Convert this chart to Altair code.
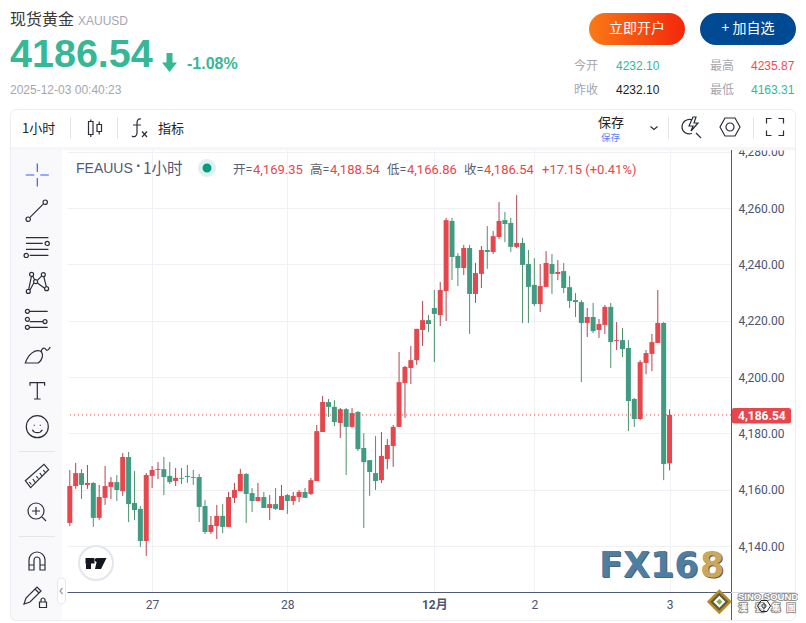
import altair as alt
import pandas as pd

opens = [4148.2,4161.3,4165.9,4161.7,4162.4,4150.0,4157.1,4161.0,4162.7,4159.5,
4171.6,4155.3,4153.2,4141.8,4164.9,4167.0,4167.3,4164.9,4163.1,4164.2,
4164.9,4164.5,4164.5,4154.2,4145.0,4147.1,4150.7,4146.8,4157.1,4159.5,
4165.6,4158.8,4156.0,4157.4,4153.5,4154.9,4152.8,4158.1,4156.0,4157.4,
4159.2,4158.5,4163.1,4180.5,4191.1,4189.4,4183.7,4188.6,4182.3,4187.6,
4174.8,4170.5,4165.9,4163.4,4170.9,4175.5,4182.3,4197.9,4203.2,4206.0,
4216.7,4220.2,4224.5,4222.0,4230.5,4255.4,4243.0,4238.7,4245.8,4229.5,
4236.6,4245.1,4244.4,4249.7,4255.7,4254.7,4246.2,4247.6,4240.1,4232.7,
4225.9,4232.0,4240.1,4236.6,4237.6,4231.9,4227.3,4226.6,4219.2,4221.3,
4216.7,4218.5,4224.9,4212.8,4213.1,4210.3,4192.2,4185.1,4205.0,4208.2,
4212.1,4219.2,4169.35]
closes = [4161.3,4165.9,4161.7,4162.4,4150.0,4157.4,4161.3,4162.7,4159.9,4171.6,
4154.9,4152.8,4141.8,4165.2,4167.0,4167.3,4164.5,4162.7,4164.2,4163.9,
4164.5,4164.2,4153.9,4145.0,4147.5,4150.7,4146.8,4157.4,4159.9,4165.6,
4158.5,4156.0,4157.4,4153.5,4154.9,4153.2,4157.8,4156.0,4157.8,4159.2,
4157.1,4163.4,4180.8,4191.1,4189.4,4184.0,4188.6,4182.3,4187.2,4174.4,
4169.8,4166.3,4163.1,4172.0,4175.9,4182.3,4198.2,4203.6,4206.0,4217.1,
4220.2,4218.8,4222.4,4230.9,4255.7,4242.6,4238.7,4245.8,4229.5,4236.9,
4245.1,4244.4,4250.0,4255.4,4254.3,4246.2,4247.6,4239.8,4232.0,4225.9,
4232.3,4240.5,4236.6,4237.3,4231.6,4227.0,4226.6,4219.2,4221.3,4216.3,
4218.8,4224.9,4212.4,4213.1,4209.9,4191.5,4185.1,4205.3,4208.5,4212.4,
4219.2,4169.1,4186.54]
highs = [4167.0,4169.5,4167.3,4168.8,4162.7,4161.7,4168.4,4164.5,4165.2,4173.0,
4173.4,4166.6,4154.2,4165.9,4168.4,4169.8,4171.6,4169.8,4167.7,4167.7,
4168.8,4167.0,4165.6,4156.3,4150.7,4154.6,4154.9,4159.2,4162.4,4167.4,
4165.9,4160.6,4162.4,4159.2,4158.1,4160.6,4161.7,4158.5,4159.2,4159.9,
4160.6,4164.2,4183.0,4193.3,4192.2,4191.8,4189.0,4189.0,4189.0,4187.9,
4180.1,4170.5,4179.0,4180.5,4178.0,4183.0,4208.9,4203.9,4211.0,4217.1,
4227.0,4222.0,4230.9,4233.7,4256.5,4256.5,4244.0,4246.9,4246.9,4240.5,
4246.5,4253.6,4251.8,4262.1,4258.6,4256.5,4264.6,4249.4,4245.1,4242.2,
4240.1,4244.7,4243.7,4241.5,4240.5,4235.9,4229.8,4227.3,4224.5,4226.3,
4220.6,4225.6,4226.3,4219.5,4217.4,4213.1,4192.6,4206.0,4209.6,4215.3,
4230.9,4219.5,4188.54]
lows = [4147.1,4160.3,4156.7,4160.3,4146.8,4149.3,4154.6,4156.7,4156.0,4157.8,
4148.5,4149.2,4139.7,4136.5,4160.6,4163.8,4158.1,4162.0,4161.3,4162.0,
4162.4,4161.7,4148.5,4144.3,4144.3,4142.5,4144.6,4146.8,4155.3,4159.5,
4148.2,4152.1,4156.0,4153.5,4149.2,4152.8,4152.8,4151.4,4154.6,4155.6,
4157.1,4158.1,4163.1,4180.5,4185.8,4182.6,4178.4,4165.2,4181.9,4173.7,
4146.4,4157.8,4159.9,4162.4,4167.3,4168.1,4182.3,4185.5,4197.5,4204.3,
4211.0,4216.0,4205.3,4218.1,4219.9,4234.4,4232.3,4236.2,4215.3,4226.3,
4231.6,4238.4,4243.7,4249.0,4247.9,4244.4,4245.8,4219.2,4219.2,4225.2,
4223.1,4231.9,4229.5,4234.4,4229.8,4224.5,4221.3,4198.2,4214.2,4215.6,
4213.9,4215.3,4203.2,4209.6,4207.1,4180.8,4182.3,4184.7,4201.0,4202.1,
4212.1,4163.4,4166.86]
day_ticks = [14, 37, 62, 79, 102]
day_labels = ["27", "28", "12月", "2", "3"]
price_ticks = [4140, 4160, 4180, 4200, 4220, 4240, 4260, 4280]
last_price = [4186.54]

SANS = "Liberation Sans, Arial, Noto Sans CJK SC"
ROB = "Roboto, Noto Sans CJK SC"
RED, GREEN = "#e5474c", "#419a82"
WRED, WGREEN = "#b5434f", "#4c9268"
NAVY = "#4f5b7a"
LBL = "#4a5570"
GREY = "#a6a6b0"

df = pd.DataFrame({"i": range(len(opens)), "o": opens, "c": closes, "h": highs, "l": lows})
one = pd.DataFrame({"a": [0]})
PL, PT = 67, 150   # page position of the plot area

layers = []
add = layers.append


def text(s, x, y, size=12, color="#333", weight="normal", font=SANS, align="left", **kw):
    add(alt.Chart(one).mark_text(align=align, baseline="middle", fontSize=size, font=font,
                                 fontWeight=weight, color=color, **kw)
        .encode(x=alt.value(x - PL), y=alt.value(y - PT), text=alt.value(s)))


def box(x0, y0, x1, y1, **kw):
    add(alt.Chart(one).mark_rect(**kw).encode(
        x=alt.value(x0 - PL), x2=alt.value(x1 - PL), y=alt.value(y0 - PT), y2=alt.value(y1 - PT)))


def icon(path, x, y, stroke="#2a2e39", sw=1.2, fill=None):
    kw = dict(shape=path, size=4, strokeWidth=sw, opacity=1)
    if fill:
        kw.update(filled=True, fill=fill, stroke=stroke if stroke else fill)
    else:
        kw.update(filled=False, stroke=stroke)
    add(alt.Chart(one).mark_point(**kw).encode(x=alt.value(x - PL), y=alt.value(y - PT)))


def circ(x, y, r):
    return f"M{x - r},{y}a{r},{r} 0 1,0 {2 * r},0a{r},{r} 0 1,0 {-2 * r},0"


def vline(x, y0, y1, color="#e4e4ea", w=1):
    box(x, y0, x + w, y1, fill=color)


def hline(x0, x1, y, color="#e4e4ea", w=1):
    box(x0, y, x1, y + w, fill=color)


# ---- chart scales and axes
xscale = alt.Scale(domain=[-0.476, 112.45], zero=False, nice=False, padding=0)
yscale = alt.Scale(domain=[4123.69, 4280.59], zero=False, nice=False, padding=0)
expr = "".join(f"datum.value=={t}?'{s}':" for t, s in zip(day_ticks, day_labels)) + "''"
xaxis = alt.Axis(values=day_ticks, labelExpr=expr, title=None, grid=True, gridColor="#f0f1f4",
                 ticks=False, domainColor=NAVY, labelColor=LBL, labelFont=ROB, labelFontSize=12,
                 labelPadding=7, labelFontWeight=alt.expr(f"datum.value=={day_ticks[2]}?'bold':'normal'"))
yaxis = alt.Axis(values=price_ticks, format=",.2f", orient="right", title=None, grid=True,
                 gridColor="#f0f1f4", ticks=False, domainColor=NAVY, labelColor=LBL, labelFont=ROB,
                 labelFontSize=12, labelPadding=7, labelOverlap=False, labelBound=False, labelFlush=False)
X = alt.X("i:Q", scale=xscale, axis=xaxis)
is_up = "datum.c >= datum.o"

add(alt.Chart(df).mark_rule(strokeWidth=1).encode(
    x=X, y=alt.Y("h:Q", scale=yscale, axis=yaxis), y2="l:Q",
    color=alt.condition(is_up, alt.value(WRED), alt.value(WGREEN))))
add(alt.Chart(df).mark_bar(size=5).encode(
    x=X, y=alt.Y("o:Q", scale=yscale, axis=yaxis), y2="c:Q",
    color=alt.condition(is_up, alt.value(RED), alt.value(GREEN))))
add(alt.Chart(pd.DataFrame({"p": last_price})).mark_rule(color="#d9484f", strokeWidth=1, strokeDash=[1, 3]).encode(
    y=alt.Y("p:Q", scale=yscale, axis=yaxis)))

# ---- frame around the plot
box(11, 110, 795, 147, fill="#ffffff")
box(11, 147, 795, 150.5, fill="#f6f6f8")
box(11, 150, 62, 620, fill="#f9f9fb")
box(62, 150, 67, 620, fill="#ffffff")
box(10.5, 109.5, 795.5, 620.5, fill="#ffffff", fillOpacity=0, stroke="#ececf1", strokeWidth=1, cornerRadius=6)
vline(731, 150, 620, NAVY)
hline(731, 795, 592, "#d8dbe4")

# ---- page header
text("现货黄金", 10, 20, 16, "#3a3a3a", font="Noto Sans CJK SC, " + SANS)
text("XAUUSD", 78, 21, 12, GREY)
text("4186.54", 10, 54.5, 39.5, "#36b795", "bold")
icon("M-3,-9.5H3V0H7.5L0,9.5L-7.5,0H-3Z", 169.5, 62.5, None, 0, "#36b795")
text("-1.08%", 187, 64, 16, "#36b795", "bold")
text("2025-12-03 00:40:23", 10, 90, 12, GREY)
box(589, 13, 685, 45, cornerRadius=16, fill=alt.LinearGradient(
    gradient="linear", x1=0, x2=1, y1=0, y2=0,
    stops=[alt.GradientStop(color="#f97a16", offset=0), alt.GradientStop(color="#f4270b", offset=1)]))
text("立即开户", 637, 29, 14, "#ffffff", font="Noto Sans CJK SC", align="center")
box(700, 13, 796, 45, cornerRadius=16, fill="#004a94")
text("+ 加自选", 748, 29, 14, "#ffffff", font="Noto Sans CJK SC", align="center")
text("今开", 574, 66, 12, GREY, font="Noto Sans CJK SC")
text("4232.10", 616, 66, 12, "#36b795")
text("最高", 710, 66, 12, GREY, font="Noto Sans CJK SC")
text("4235.87", 751, 66, 12, "#ee4d4d")
text("昨收", 574, 90, 12, GREY, font="Noto Sans CJK SC")
text("4232.10", 616, 90, 12, "#222222")
text("最低", 710, 90, 12, GREY, font="Noto Sans CJK SC")
text("4163.31", 751, 90, 12, "#36b795")

# ---- chart toolbar
text("1小时", 22, 128.5, 13, "#222", font="Noto Sans CJK SC")
vline(70, 117, 139)
icon("M-6.5,-6.5h4.5v13h-4.5zM-4.2,-8.5v2M-4.2,6.5v2.5M2,-3.5h4.5v7h-4.5zM4.2,-6.5v3M4.2,3.5v3", 95, 128)
vline(117, 117, 139)
icon("M2,-9C-1,-9.5 -2,-7.5 -2,-5V5C-2,8.5 -5,9.5 -7,8M-6,-3H2", 139, 128)
icon("M3,3.5L8,9M8,3.5L3,9", 139, 128)
text("指标", 158, 128.5, 13, "#222", font="Noto Sans CJK SC")
text("保存", 598, 123, 13, "#222", font="Noto Sans CJK SC")
text("保存", 601, 138, 9.5, "#5b7fff", font="Noto Sans CJK SC")
icon("M-3.5,-1.5L0,1.5L3.5,-1.5", 654, 128)
vline(668, 117, 139)
icon("M2.5,-7.2C-3,-9 -8,-5 -8,0C-8,5 -3,8 2,6.5M6,6L11,11M3,-10L-1,-1H3L1,4L8,-4H4L6,-10Z", 690, 127)
vline(753, 117, 139)
icon("M-5,-9L5,-9L10,0L5,9L-5,9L-10,0Z" + circ(0, 0, 4), 730, 127)
icon("M-8.5,-3.5V-8.5H-3.5M3.5,-8.5H8.5V-3.5M8.5,3.5V8.5H3.5M-3.5,8.5H-8.5V3.5", 775, 127)

# ---- left drawing tools
icon("M-11.5,0H-3M3,0H11.5M0,-11.5V-3M0,3V11.5", 37.3, 175, "#2962ff")
icon("M-7,7L7,-7" + circ(8.5, -8.5, 2.2) + circ(-8.5, 8.5, 2.2), 36.7, 210.7)
icon("M-10.7,-9H11.7M-10.7,-3.3H6M-10.7,2.7H11.7M-7,8.7H11.7" + circ(10.5, -3.3, 2.1) + circ(-10.5, 8.7, 2.1), 36.7, 246.7)
icon("M-8.6,7.7L-5.9,-5.3M-4.5,-5.8L-2.6,-1.6M-0.2,-1L4.5,-5.8M6.5,-5L9,5M-7.6,8.8L-3.4,1M-0.2,1L7.3,6.6"
     + circ(-9, 9.7, 2) + circ(-5.7, -7.3, 2) + circ(-1.7, 0, 2) + circ(6, -7, 2) + circ(9.3, 7, 2), 37.3, 281.7)
icon("M-7,-8H11M-7,8H11M-7,2.3H6" + circ(-9.3, -8, 2) + circ(-9.3, 0, 2) + circ(8.3, 2.3, 2) + circ(-9.3, 8, 2), 36.7, 319.3)
icon("M-12,8C-9,-1 -2,-6 3,-4C7,-1 5,5 1,8ZM4,-3C4,-7 7,-8 9,-5C10,-4 12,-6 13,-8", 37.3, 355)
icon("M-7.3,-5V-8H7.3V-5M0,-8V8.3M-3.3,8.3H3.3", 37.3, 390.7)
icon(circ(0, 0, 11) + "M-5,3C-3,7 3,7 5,3M-3,-2V-1M3,-2V-1", 37.3, 426.7)
hline(19, 55, 451)
icon("M-12,4.7L6.7,-11.7L11.3,-6.3L-6.7,11.7ZM-8,6L-6,8.5M-4.5,3L-2,6.5M-1,0L1,2.5M2.5,-3L5,0.5M6,-6L8,-3.5", 37.3, 476)
icon(circ(0, 0, 8) + "M5.7,5.7L10,10M-4,0H4M0,-4V4", 36, 511)
hline(19, 55, 536)
icon("M-8,9V-1A8,8 0 0 1 8,-1V9H3V-1A3,3 0 0 0 -3,-1V9ZM-8,4H-3M3,4H8", 37, 561)
icon("M-10,9L-8,3L3,-8L7,-4L-4,7ZM1,-6L5,-2", 34, 595)
icon("M-3.5,-1H3.5V4.5H-3.5ZM-2,-1V-3A2,2 0 0 1 2,-3V-1", 43, 603)
box(57.5, 578, 65.5, 604, fill="#ffffff", stroke="#e6e6ec", strokeWidth=1, cornerRadius=4)
icon("M1,-3L-1.5,0L1,3", 61.5, 591, "#9a9aa5")

# ---- chart legend line
text("FEAUUS", 76, 169, 14, "#505a78")
text("·", 136, 166, 16, "#505a78", "bold")
text("1小时", 143, 169, 15.5, "#505a78", font="Noto Sans CJK SC")
icon(circ(0, 0, 9), 207, 168, None, 0, "#e0f2ee")
icon(circ(0, 0, 4.5), 207, 168, None, 0, "#089981")
LEG = "#5a6070"
CRED = "#e5474c"
text("开=", 233, 169.5, 12.5, LEG, font=ROB)
text("4,169.35", 253, 169.5, 13, CRED, font=ROB)
text("高=", 310, 169.5, 12.5, LEG, font=ROB)
text("4,188.54", 330, 169.5, 13, CRED, font=ROB)
text("低=", 387, 169.5, 12.5, LEG, font=ROB)
text("4,166.86", 407, 169.5, 13, CRED, font=ROB)
text("收=", 464, 169.5, 12.5, LEG, font=ROB)
text("4,186.54", 484, 169.5, 13, CRED, font=ROB)
text("+17.15 (+0.41%)", 542, 169.5, 13, CRED, font=ROB)

# ---- last price tag
box(732, 408, 791, 423.5, fill="#e5474c", cornerRadius=2)
text("4,186.54", 738, 415.5, 12, "#ffffff", "bold", font=ROB)

# ---- TradingView badge
icon(circ(0, 0, 17), 96, 563, "#e4e5ee", 2, "#ffffff")
icon("M-10.5,-5H-1.5V0.5H-5V6H-10V0.5H-10.5ZM1.5,-5H10.5L5,6H-1Z", 96, 563, None, 0, "#131722")
icon(circ(0, 0, 1.9), 96.7, 560, None, 0, "#131722")

# ---- watermarks
WM = "DejaVu Sans"
text("FX16", 600, 567, 35, "#55626e", "bold", font=WM)
text("FX16", 599, 566, 35, "#4f7ea3", "bold", font=WM)
text("8", 701, 567, 35, "#6a5a38", "bold", font=WM)
text("8", 700, 566, 35, "#c9a75f", "bold", font=WM)
icon("M0,-12.5L12.5,0L0,12.5L-12.5,0Z", 719.3, 601.7, None, 0, "#b58a2a")
icon("M0,-9L9,0L0,9L-9,0Z", 719.3, 601.7, None, 0, "#5d5a35")
icon("M0,-6L6,0L0,6L-6,0Z", 719.3, 601.7, None, 0, "#ffffff")
icon("M0,-3L3,0L0,3L-3,0Z", 719.3, 601.7, None, 0, "#7fb347")
text("SINO SOUND", 738, 596.5, 9.5, "#8f8f8f", "bold", font=SANS, stroke="#8f8f8f", strokeWidth=2)
text("SINO SOUND", 738, 596.5, 9.5, "#ffffff", "bold", font=SANS)
for ch, cx in zip("漢聲集團", [743, 760, 776, 791]):
    text(ch, cx, 607.5, 9, "#8f8f8f", "bold", font="Noto Sans CJK TC", align="center", stroke="#8f8f8f", strokeWidth=2)
    text(ch, cx, 607.5, 9, "#ffffff", "bold", font="Noto Sans CJK TC", align="center")
icon("M-3,-5.5H3L6.5,0L3,5.5H-3L-6.5,0Z" + circ(0, 0, 2), 764, 606, "#222", 1)

chart = alt.layer(*layers).properties(
    width=664, height=442,
    padding={"left": PL - 8, "top": PT - 8, "right": 67, "bottom": 31},
    autosize=alt.AutoSizeParams(type="none"),
).configure_view(stroke=None)

chart.save("out.html", embed_options={"renderer": "svg", "actions": False})
